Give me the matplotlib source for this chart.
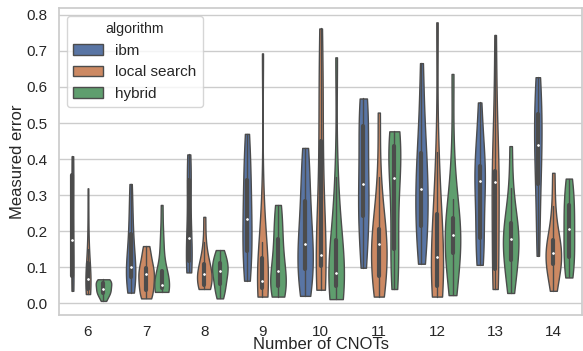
import matplotlib
matplotlib.use("Agg")
import matplotlib.pyplot as plt
import seaborn as sns
import pandas as pd

# number of CNOTs on the x axis
cnots = [6, 7, 8, 9, 10, 11, 12, 13, 14]
algorithms = ["ibm", "local search", "hybrid"]

ibm_errors = [
    [0.035, 0.05, 0.065, 0.076, 0.11, 0.15, 0.176, 0.23, 0.30, 0.357, 0.37, 0.39, 0.408],
    [0.030, 0.05, 0.065, 0.072, 0.085, 0.095, 0.101, 0.13, 0.16, 0.192, 0.23, 0.28, 0.331],
    [0.086, 0.095, 0.108, 0.118, 0.14, 0.16, 0.182, 0.23, 0.29, 0.343, 0.36, 0.39, 0.413],
    [0.063, 0.09, 0.12, 0.145, 0.18, 0.21, 0.233, 0.27, 0.31, 0.343, 0.38, 0.43, 0.470],
    [0.021, 0.04, 0.07, 0.095, 0.12, 0.145, 0.166, 0.20, 0.24, 0.284, 0.33, 0.39, 0.431],
    [0.099, 0.15, 0.20, 0.242, 0.27, 0.30, 0.330, 0.38, 0.44, 0.491, 0.52, 0.55, 0.568],
    [0.110, 0.15, 0.19, 0.215, 0.25, 0.29, 0.316, 0.34, 0.38, 0.417, 0.47, 0.55, 0.666],
    [0.107, 0.13, 0.16, 0.182, 0.24, 0.30, 0.339, 0.35, 0.365, 0.382, 0.42, 0.48, 0.557],
    [0.132, 0.20, 0.27, 0.330, 0.37, 0.41, 0.439, 0.47, 0.50, 0.526, 0.56, 0.60, 0.627],
]
local_errors = [
    [0.026, 0.032, 0.037, 0.040, 0.052, 0.062, 0.069, 0.08, 0.095, 0.111, 0.15, 0.22, 0.319],
    [0.014, 0.022, 0.030, 0.038, 0.055, 0.07, 0.081, 0.088, 0.094, 0.099, 0.125, 0.145, 0.159],
    [0.040, 0.043, 0.048, 0.052, 0.065, 0.075, 0.081, 0.09, 0.10, 0.109, 0.13, 0.17, 0.240],
    [0.019, 0.025, 0.035, 0.044, 0.05, 0.056, 0.062, 0.08, 0.10, 0.127, 0.17, 0.28, 0.693],
    [0.038, 0.055, 0.08, 0.104, 0.115, 0.125, 0.135, 0.22, 0.33, 0.449, 0.55, 0.65, 0.762],
    [0.019, 0.04, 0.06, 0.075, 0.11, 0.14, 0.166, 0.18, 0.195, 0.205, 0.26, 0.35, 0.529],
    [0.019, 0.03, 0.04, 0.049, 0.08, 0.11, 0.130, 0.16, 0.20, 0.247, 0.30, 0.42, 0.779],
    [0.040, 0.06, 0.08, 0.095, 0.17, 0.26, 0.337, 0.345, 0.355, 0.366, 0.45, 0.58, 0.744],
    [0.035, 0.06, 0.09, 0.109, 0.12, 0.13, 0.139, 0.15, 0.16, 0.175, 0.21, 0.27, 0.362],
]
hybrid_errors = [
    [0.007, 0.018, 0.025, 0.029, 0.035, 0.039, 0.041, 0.05, 0.055, 0.058, 0.062, 0.065, 0.067],
    [0.032, 0.036, 0.040, 0.044, 0.047, 0.050, 0.052, 0.06, 0.075, 0.090, 0.16, 0.18, 0.273],
    [0.014, 0.03, 0.045, 0.053, 0.07, 0.082, 0.090, 0.098, 0.105, 0.111, 0.125, 0.138, 0.148],
    [0.019, 0.025, 0.035, 0.049, 0.06, 0.075, 0.090, 0.12, 0.15, 0.178, 0.21, 0.25, 0.273],
    [0.012, 0.025, 0.038, 0.047, 0.06, 0.072, 0.083, 0.11, 0.14, 0.176, 0.24, 0.35, 0.682],
    [0.040, 0.08, 0.12, 0.150, 0.22, 0.29, 0.348, 0.38, 0.41, 0.436, 0.45, 0.465, 0.477],
    [0.023, 0.06, 0.10, 0.139, 0.16, 0.18, 0.191, 0.205, 0.22, 0.238, 0.29, 0.40, 0.636],
    [0.029, 0.06, 0.095, 0.120, 0.145, 0.165, 0.178, 0.19, 0.205, 0.222, 0.26, 0.32, 0.436],
    [0.072, 0.09, 0.11, 0.130, 0.155, 0.18, 0.205, 0.23, 0.25, 0.273, 0.30, 0.325, 0.346],
]

rows = []
for alg, series in zip(algorithms, [ibm_errors, local_errors, hybrid_errors]):
    for n, vals in zip(cnots, series):
        for v in vals:
            rows.append({"cnots": n, "error": v, "algorithm": alg})
df = pd.DataFrame(rows)

sns.set_theme(context="notebook", style="whitegrid")
plt.rcParams["font.family"] = ["Liberation Sans", "DejaVu Sans"]

fig, ax = plt.subplots(figsize=(5.83, 3.51), dpi=100)
fig.subplots_adjust(left=0.101, right=0.999, bottom=0.103, top=0.976)

# one call per CNOT count so the widths are scaled within each group
for n in cnots:
    sns.violinplot(data=df[df["cnots"] == n], x="cnots", y="error",
                   hue="algorithm", hue_order=algorithms, order=cnots,
                   cut=0, common_norm=True, linewidth=1,
                   inner_kws=dict(box_width=3, whis_width=1, marker="."),
                   legend=(n == cnots[0]), ax=ax)

ax.set_xlim(-0.5, len(cnots) - 0.5)
ax.tick_params(axis="x", pad=1.5)
ax.tick_params(axis="y", pad=2.5)
ax.set_xlabel("Number of CNOTs", labelpad=-1.5)
ax.set_ylabel("Measured error", labelpad=1)
sns.move_legend(ax, "upper left", title="algorithm", fontsize=11,
                title_fontsize=10.2)

fig.savefig("out.png", dpi=100)
